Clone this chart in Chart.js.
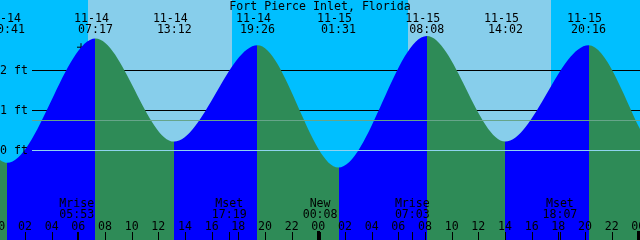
<!DOCTYPE html>
<html>
<head>
<meta charset="utf-8">
<script src="https://cdn.jsdelivr.net/npm/chart.js@4/dist/chart.umd.min.js"></script>
<style>
  html, body { margin: 0; padding: 0; background: #00bfff; }
  #wrap { width: 640px; height: 240px; }
</style>
</head>
<body>
<div id="wrap"><canvas id="tide_chart"></canvas></div>
<script>
// hours counted from 11-14 00:00, heights in feet (highs and lows, plus one each side off screen)
const tideHours = [-11.50, -5.30, 0.683, 7.283, 13.200, 19.433, 25.517, 32.133, 38.033, 44.267, 50.30, 56.50];
const tideFeet  = [0.15, 2.60, -0.32, 2.79, 0.21, 2.62, -0.44, 2.85, 0.21, 2.62, -0.36, 2.80];

const eventHours = [0.683, 7.283, 13.200, 19.433, 25.517, 32.133, 38.033, 44.267];
const eventDates = ['11-14', '11-14', '11-14', '11-14', '11-15', '11-15', '11-15', '11-15'];
const eventTimes = ['00:41', '07:17', '13:12', '19:26', '01:31', '08:08', '14:02', '20:16'];

const sunriseHours = [6.70, 30.70];
const sunsetHours = [17.50, 41.45];

const moonHours = [5.883, 17.317, 24.133, 31.050, 42.117];
const moonNames = ['Mrise', 'Mset', 'New', 'Mrise', 'Mset'];
const moonTimes = ['05:53', '17:19', '00:08', '07:03', '18:07'];

const hourTicks = [0, 2, 4, 6, 8, 10, 12, 14, 16, 18, 20, 22, 24, 26, 28, 30, 32, 34, 36, 38, 40, 42, 44, 46, 48];
const hourLabels = ['00', '02', '04', '06', '08', '10', '12', '14', '16', '18', '20', '22',
                    '00', '02', '04', '06', '08', '10', '12', '14', '16', '18', '20', '22', '00'];

const feetLines = [2, 1];
const feetLabels = ['2 ft', '1 ft', '0 ft'];
const datumFeet = 0;
const mslFeet = 0.74;

const nowHour = [6.2];
const nowFeet = [2.57];

const title = 'Fort Pierce Inlet, Florida';

const NIGHT = '#00bfff', DAY = '#87ceeb', FLOOD = '#0000ff', EBB = '#2e8b57';
const FONT = '11.6px "DejaVu Sans Mono"';

// rising water blue, falling water green, hard switch at each high / low
function waterFill(context) {
    const chart = context.chart;
    const x = chart.scales.x;
    if (!chart.chartArea || !x) return FLOOD;
    const w = chart.width;
    const g = chart.ctx.createLinearGradient(0, 0, w, 0);
    for (let i = 0; i < tideHours.length - 1; i++) {
        const col = tideFeet[i + 1] > tideFeet[i] ? FLOOD : EBB;
        const a = Math.min(Math.max(x.getPixelForValue(tideHours[i]) / w, 0), 1);
        const b = Math.min(Math.max(x.getPixelForValue(tideHours[i + 1]) / w, 0), 1);
        g.addColorStop(a, col);
        g.addColorStop(b, col);
    }
    return g;
}

const decor = {
    id: 'decor',
    beforeDraw(chart) {
        const c = chart.ctx, x = chart.scales.x, y = chart.scales.y;
        c.save();
        c.fillStyle = NIGHT;
        c.fillRect(0, 0, chart.width, chart.height);
        c.fillStyle = DAY;
        for (let i = 0; i < sunriseHours.length; i++) {
            const a = Math.round(x.getPixelForValue(sunriseHours[i]));
            const b = Math.round(x.getPixelForValue(sunsetHours[i]));
            c.fillRect(a, 0, b - a, chart.height);
        }
        // height grid lines sit behind the water
        c.fillStyle = '#000';
        feetLines.forEach(f => {
            c.fillRect(32, Math.round(y.getPixelForValue(f)), chart.width - 32, 1);
        });
        c.restore();
    },
    afterDatasetsDraw(chart) {
        const c = chart.ctx, x = chart.scales.x, y = chart.scales.y;
        c.save();
        c.fillStyle = '#8fd3f0';
        c.fillRect(32, Math.round(y.getPixelForValue(datumFeet)), chart.width - 32, 1);
        c.fillStyle = '#66a58a';
        c.fillRect(32, Math.round(y.getPixelForValue(mslFeet)), chart.width - 32, 1);

        c.font = FONT;
        c.fillStyle = '#000';
        c.textAlign = 'left';
        [2, 1, 0].forEach((f, i) => {
            c.fillText(feetLabels[i], 0, y.getPixelForValue(f) + 4);
        });

        c.textAlign = 'center';
        c.fillText(title, 320, 10);
        eventHours.forEach((h, i) => {
            const px = x.getPixelForValue(h);
            c.fillText(eventDates[i], px - 4, 22);
            c.fillText(eventTimes[i], px, 33);
        });

        moonHours.forEach((h, i) => {
            const px = x.getPixelForValue(h);
            c.fillText(moonNames[i], px, 207);
            c.fillText(moonTimes[i], px, 218);
            c.fillRect(Math.round(px), 232, 1, 8);
        });

        hourTicks.forEach((h, i) => {
            const px = x.getPixelForValue(h);
            c.fillText(hourLabels[i], px, 230);
            if (h % 24 === 0) {
                c.fillRect(Math.round(px) - 1, 231, 3, 9);
            } else {
                c.fillRect(Math.round(px), 232, 1, 8);
            }
        });
        c.restore();
    }
};

const ctx = document.getElementById('tide_chart').getContext('2d');

new Chart(ctx, {
    type: 'line',
    data: {
        datasets: [{
            label: 'Tide',
            data: tideHours.map((h, i) => ({ x: h, y: tideFeet[i] })),
            borderColor: 'rgba(0,0,0,0)',
            borderWidth: 0,
            pointRadius: 0,
            cubicInterpolationMode: 'monotone',
            fill: 'start',
            backgroundColor: waterFill
        }, {
            label: 'Now',
            data: nowHour.map((h, i) => ({ x: h, y: nowFeet[i] })),
            showLine: false,
            pointStyle: 'cross',
            pointRadius: 4,
            borderColor: '#000',
            borderWidth: 1
        }]
    },
    options: {
        responsive: true,
        maintainAspectRatio: false,
        animation: false,
        layout: { padding: 0, autoPadding: false },
        plugins: {
            legend: { display: false },
            tooltip: { enabled: false }
        },
        scales: {
            x: { type: 'linear', min: 0.125, max: 48.125, display: false },
            y: { min: -2.25, max: 3.75, display: false }
        }
    },
    plugins: [decor]
});
</script>
</body>
</html>
